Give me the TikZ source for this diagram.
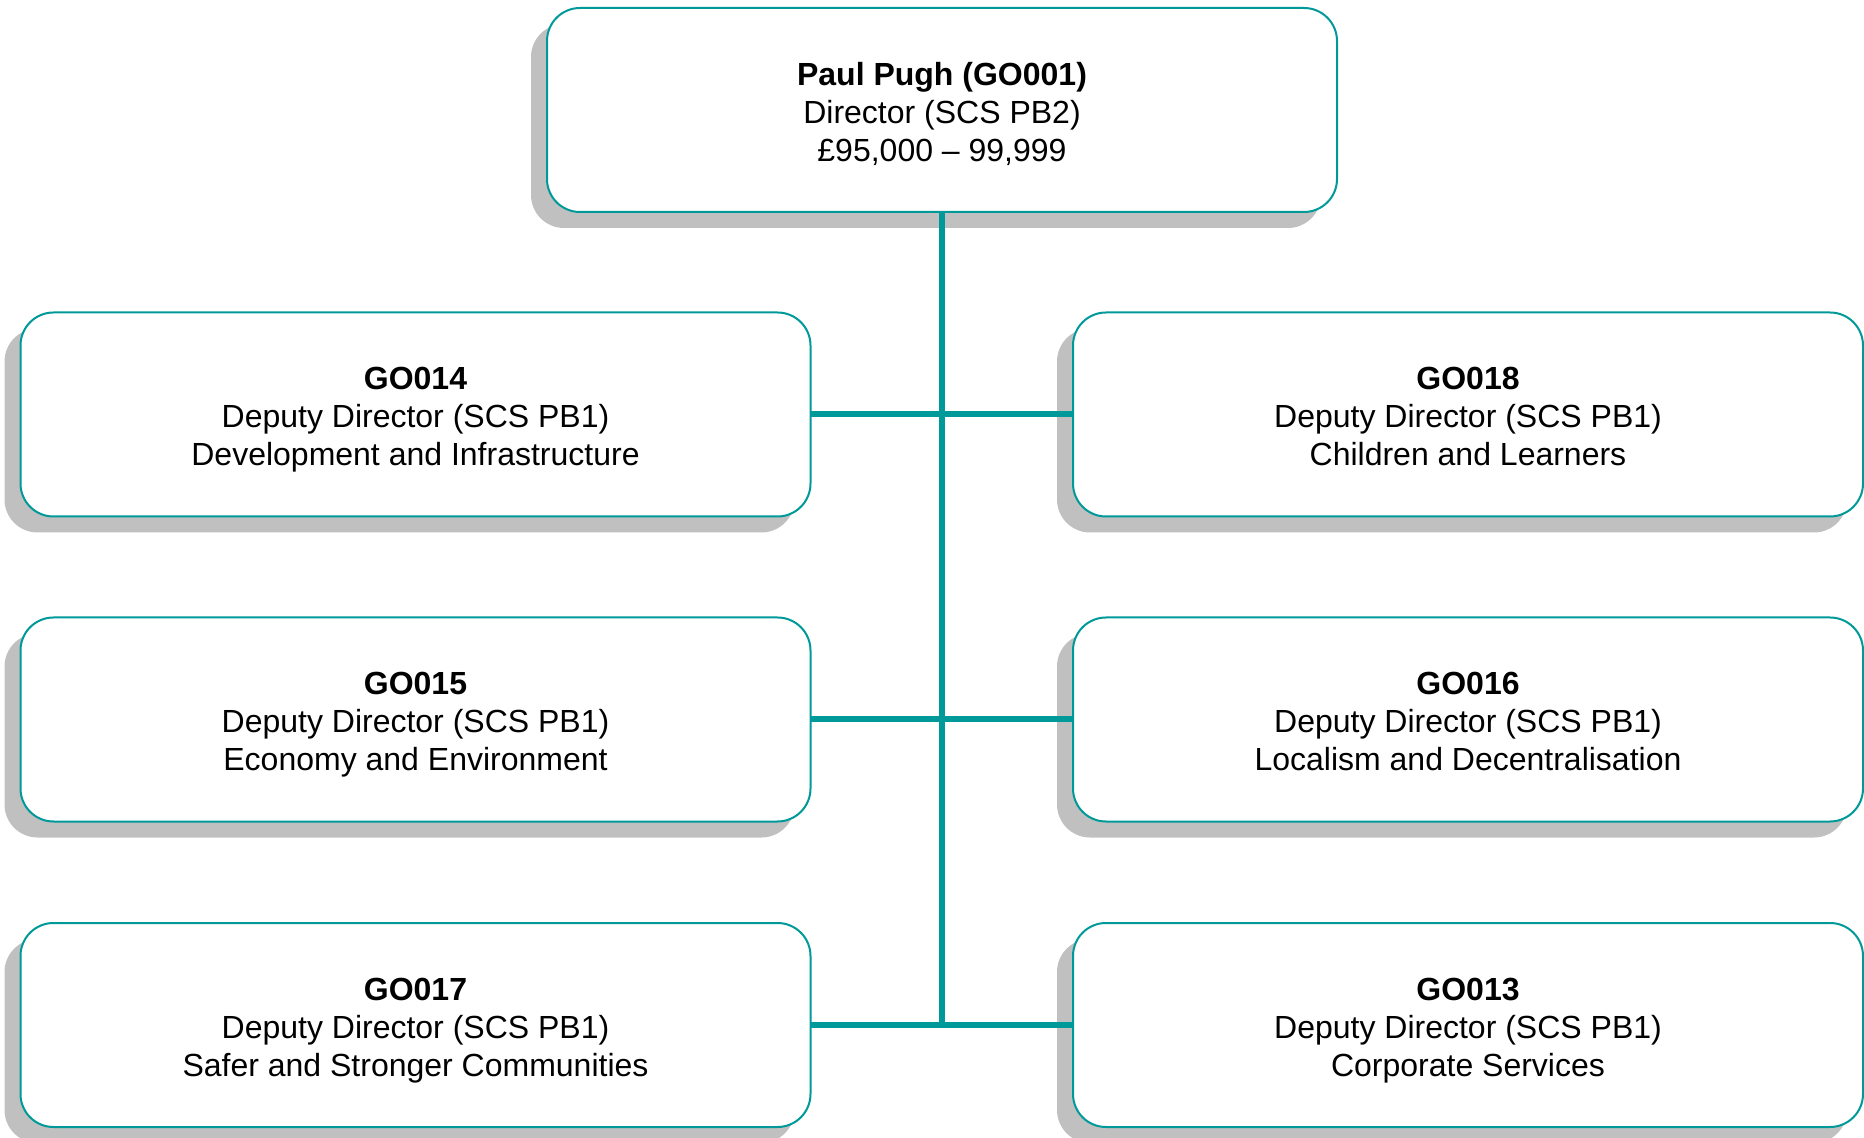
\documentclass[tikz,border=0pt]{standalone}
\usepackage{fontspec}
\setmainfont{Liberation Sans}
\usetikzlibrary{shadows}
\definecolor{teal}{RGB}{0,153,153}
\definecolor{shadowgray}{RGB}{192,192,192}
\begin{document}
\begin{tikzpicture}[
        x=0.5pt, y=-0.5pt,
        post/.style={draw=teal, line width=1pt, fill=white, rounded corners=16.5pt,
            minimum width=395pt, minimum height=102pt, align=center, outer sep=0pt,
            text height=55pt, text depth=3.8pt,
            font=\fontsize{16}{19}\selectfont,
            drop shadow={shadow xshift=-8pt, shadow yshift=-8pt, fill=shadowgray, opacity=1}},
        link/.style={draw=teal, line width=3pt}
    ]
    \useasboundingbox (0,0) rectangle (1864,1138);

    % Director at the top
    \node[post] (boss) at (942,110) {\textbf{Paul Pugh (GO001)}\\Director (SCS PB2)\\£95,000 – 99,999};

    % Deputy directors, left column
    \node[post] (dd14) at (415.5,414.5) {\textbf{GO014}\\Deputy Director (SCS PB1)\\Development and Infrastructure};
    \node[post] (dd15) at (415.5,719.5) {\textbf{GO015}\\Deputy Director (SCS PB1)\\Economy and Environment};
    \node[post] (dd17) at (415.5,1025) {\textbf{GO017}\\Deputy Director (SCS PB1)\\Safer and Stronger Communities};

    % Deputy directors, right column
    \node[post] (dd18) at (1468,414.5) {\textbf{GO018}\\Deputy Director (SCS PB1)\\Children and Learners};
    \node[post] (dd16) at (1468,719.5) {\textbf{GO016}\\Deputy Director (SCS PB1)\\Localism and Decentralisation};
    \node[post] (dd13) at (1468,1025) {\textbf{GO013}\\Deputy Director (SCS PB1)\\Corporate Services};

    % Connectors
    \draw[link] (boss.south) -- (boss.south |- dd17.east);
    \draw[link] (dd14.east) -- (dd18.west);
    \draw[link] (dd15.east) -- (dd16.west);
    \draw[link] (dd17.east) -- (dd13.west);

\end{tikzpicture}
\end{document}
